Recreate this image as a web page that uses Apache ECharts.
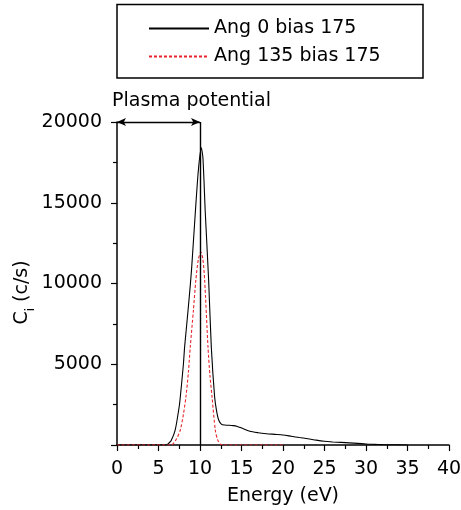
<!DOCTYPE html>
<html>
<head>
<meta charset="utf-8">
<script src="https://cdn.jsdelivr.net/npm/echarts@6/dist/echarts.min.js"></script>
<style>
  html, body { margin: 0; padding: 0; background: #fff; }
  #chart { width: 461px; height: 510px; }
</style>
</head>
<body>
<div id="chart"></div>
<script>
// Ang 0 bias 175 (black solid)
const ang0Energy = [0, 5, 6, 6.2, 6.5, 7, 7.5, 7.63, 8, 8.15, 8.5, 8.83, 9, 9.43, 9.8, 10.15, 10.35, 10.64, 11.04, 11.36, 11.76, 12.0, 12.25, 12.6, 13, 14, 14.5, 15, 16, 17, 18, 19, 20, 21, 22, 23, 24, 25, 26, 27, 28, 29, 30, 31, 32, 33, 34, 35]
const ang0Counts = [0, 0, 0, 100, 250, 900, 2400, 2990, 5000, 6090, 8000, 9900, 11000, 14350, 17000, 18400, 17800, 14350, 10220, 6090, 2990, 2100, 1550, 1280, 1240, 1200, 1150, 1050, 850, 760, 700, 660, 620, 540, 460, 390, 300, 230, 190, 160, 130, 100, 60, 40, 25, 15, 8, 0]

// Ang 135 bias 175 (red dashed)
const ang135Energy = [0, 6.5, 6.8, 7.2, 7.63, 8, 8.31, 8.6, 8.83, 9.2, 9.5, 9.8, 10.1, 10.35, 10.56, 10.96, 11.2, 11.45, 11.84, 12.1, 12.45, 12.8, 20]
const ang135Counts = [0, 0, 100, 400, 930, 1900, 2990, 4500, 6090, 8300, 10220, 11500, 11950, 11500, 10220, 6090, 4300, 2990, 930, 350, 50, 0, 0]

const xTicks = [0, 40, 5]        // min, max, interval
const yTicks = [0, 20000, 5000]
const plasmaPotential = 10

const font = 'DejaVu Sans'

const toPairs = (xs, ys) => xs.map((x, i) => [x, ys[i]])

const chart = echarts.init(document.getElementById('chart'))
chart.setOption({
  animation: false,
  textStyle: { fontFamily: font },
  grid: { left: 117, right: 12, top: 122, bottom: 65, outerBoundsMode: 'none', containLabel: false },
  graphic: [
    {
      type: 'rect',
      shape: { x: 117, y: 4.5, width: 306, height: 73.5 },
      style: { fill: 'none', stroke: '#000', lineWidth: 1.5 }
    },
    {
      type: 'text',
      left: 112,
      top: 92,
      style: { text: 'Plasma potential', fontFamily: font, fontSize: 19, fill: '#000' }
    }
  ],
  legend: {
    orient: 'vertical',
    left: 148,
    top: 19,
    padding: 0,
    itemGap: 9,
    itemWidth: 60,
    itemHeight: 20,
    itemStyle: { color: 'transparent', borderWidth: 0, opacity: 0 },
    textStyle: { fontFamily: font, fontSize: 19, color: '#000' },
    data: ['Ang 0 bias 175', 'Ang 135 bias 175']
  },
  xAxis: {
    type: 'value',
    min: xTicks[0],
    max: xTicks[1],
    interval: xTicks[2],
    name: 'Energy (eV)',
    nameLocation: 'middle',
    nameGap: 42,
    nameMoveOverlap: false,
    nameTextStyle: { fontFamily: font, fontSize: 19, color: '#000' },
    axisLine: { lineStyle: { color: '#000', width: 1.5 } },
    axisTick: { length: 6, lineStyle: { color: '#000', width: 1.2 } },
    minorTick: { show: true, splitNumber: 2, length: 4, lineStyle: { color: '#000', width: 1.2 } },
    axisLabel: { fontFamily: font, fontSize: 19, color: '#000', margin: 15 },
    splitLine: { show: false }
  },
  yAxis: {
    type: 'value',
    min: yTicks[0],
    max: yTicks[1],
    interval: yTicks[2],
    name: '{c|C}{i|i}{c| (c/s)}',
    nameLocation: 'middle',
    nameRotate: 90,
    nameGap: 84,
    nameMoveOverlap: false,
    nameTextStyle: {
      padding: [0, 18, 0, 0],
      rich: {
        c: { fontFamily: font, fontSize: 19, color: '#000', lineHeight: 22 },
        i: { fontFamily: font, fontSize: 12, color: '#000', verticalAlign: 'bottom', lineHeight: 12, padding: [0, 0, -4, 0] }
      }
    },
    axisLine: { show: true, lineStyle: { color: '#000', width: 1.5 } },
    axisTick: { show: true, length: 6, lineStyle: { color: '#000', width: 1.2 } },
    minorTick: { show: true, splitNumber: 2, length: 4, lineStyle: { color: '#000', width: 1.2 } },
    axisLabel: {
      fontFamily: font, fontSize: 19, color: '#000', margin: 15,
      formatter: v => (v === 0 ? '' : String(v))
    },
    splitLine: { show: false }
  },
  series: [
    {
      name: 'Ang 0 bias 175',
      type: 'line',
      data: toPairs(ang0Energy, ang0Counts),
      showSymbol: false,
      symbol: 'none',
      smooth: 0.25,
      color: '#000',
      lineStyle: { color: '#000', width: 1.1 },
      z: 3,
      markLine: {
        silent: true,
        symbol: ['none', 'none'],
        label: { show: false },
        lineStyle: { color: '#000', width: 1.4, type: 'solid' },
        data: [
          [{ coord: [plasmaPotential, yTicks[0]] }, { coord: [plasmaPotential, yTicks[1]] }],
          [
            { coord: [xTicks[0], yTicks[1]], symbol: 'arrow', symbolSize: [6, 9] },
            { coord: [plasmaPotential, yTicks[1]], symbol: 'arrow', symbolSize: [6, 9] }
          ]
        ]
      }
    },
    {
      name: 'Ang 135 bias 175',
      type: 'line',
      data: toPairs(ang135Energy, ang135Counts),
      showSymbol: false,
      symbol: 'none',
      smooth: 0.25,
      color: '#e8252d',
      lineStyle: { color: '#e8252d', width: 1.1, type: [3, 2] },
      z: 4
    }
  ]
})
</script>
</body>
</html>
